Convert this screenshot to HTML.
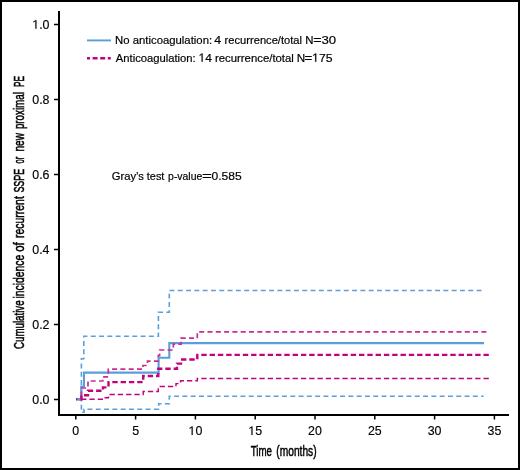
<!DOCTYPE html>
<html>
<head>
<meta charset="utf-8">
<style>
html,body{margin:0;padding:0;background:#fff;}
body{width:520px;height:470px;overflow:hidden;}
svg{display:block;will-change:transform;}
text{font-family:"Liberation Sans",sans-serif;fill:#000;}
.t{stroke:#000;stroke-width:0.2;}
.k{stroke:#000;stroke-width:0.15;}
.one{fill:none;stroke:none;}
</style>
</head>
<body>
<svg width="520" height="470" viewBox="0 0 520 470">
<rect x="1" y="1" width="518" height="468" fill="none" stroke="#000" stroke-width="2"/>
<g stroke="#000" stroke-width="2" fill="none">
<path d="M59,11 V415 H509"/>
</g>
<g stroke="#000" stroke-width="1.5" fill="none">
<path d="M54,24.5 H59 M54,99.5 H59 M54,174.5 H59 M54,249.5 H59 M54,324.5 H59 M54,399.5 H59"/>
<path d="M75.8,415 V419.5 M135.6,415 V419.5 M195.4,415 V419.5 M255.2,415 V419.5 M315,415 V419.5 M374.8,415 V419.5 M434.6,415 V419.5 M494.4,415 V419.5"/>
</g>
<g class="k" font-size="12.4" text-anchor="end">
<text x="49.5" y="28.7"><tspan class="one">1</tspan>.0</text>
<text x="49.5" y="103.7">0.8</text>
<text x="49.5" y="178.7">0.6</text>
<text x="49.5" y="253.7">0.4</text>
<text x="49.5" y="328.7">0.2</text>
<text x="49.5" y="403.7">0.0</text>
</g>
<g class="k" font-size="12.4" text-anchor="middle">
<text x="75.8" y="435">0</text>
<text x="135.6" y="435">5</text>
<text x="195.4" y="435"><tspan class="one">1</tspan>0</text>
<text x="255.2" y="435"><tspan class="one">1</tspan>5</text>
<text x="315.0" y="435">20</text>
<text x="374.8" y="435">25</text>
<text x="434.6" y="435">30</text>
<text x="494.4" y="435">35</text>
</g>
<g font-size="15.1" stroke="#000" stroke-width="0.5">
<text x="250.7" y="455.6" textLength="21.3" lengthAdjust="spacingAndGlyphs">Time</text>
<text x="276.3" y="455.6" textLength="40.3" lengthAdjust="spacingAndGlyphs">(months)</text>
</g>
<g font-size="15.3" stroke="#000" stroke-width="0.55">
<text transform="translate(23.6,348.9) rotate(-90)" textLength="48.5" lengthAdjust="spacingAndGlyphs">Cumulative</text>
<text transform="translate(23.6,298.5) rotate(-90)" textLength="43.8" lengthAdjust="spacingAndGlyphs">incidence</text>
<text transform="translate(23.6,251.8) rotate(-90)" textLength="9.6" lengthAdjust="spacingAndGlyphs">of</text>
<text transform="translate(23.6,237.9) rotate(-90)" textLength="41.7" lengthAdjust="spacingAndGlyphs">recurrent</text>
<text transform="translate(23.6,192.6) rotate(-90)" textLength="23.9" lengthAdjust="spacingAndGlyphs">SSPE</text>
<text transform="translate(23.6,163.4) rotate(-90)" textLength="6.7" lengthAdjust="spacingAndGlyphs">or</text>
<text transform="translate(23.6,151.6) rotate(-90)" textLength="18.6" lengthAdjust="spacingAndGlyphs">new</text>
<text transform="translate(23.6,129.1) rotate(-90)" textLength="36.9" lengthAdjust="spacingAndGlyphs">proximal</text>
<text transform="translate(23.6,87.0) rotate(-90)" textLength="11.1" lengthAdjust="spacingAndGlyphs">PE</text>
</g>
<path d="M87,40.4 H111" stroke="#5a9fdc" stroke-width="1.9" fill="none"/>
<path d="M87,58.2 H111" stroke="#c0047c" stroke-width="2.4" fill="none" stroke-dasharray="3 2.6 5 2.6 5 2.6 3"/>
<text class="t" x="115.123" y="43.7" font-size="11.8" textLength="96.972" lengthAdjust="spacingAndGlyphs">No anticoagulation:</text>
<text class="t" x="214.378" y="43.7" font-size="11.8" textLength="6.859" lengthAdjust="spacingAndGlyphs">4</text>
<text class="t" x="224.62" y="43.7" font-size="11.8" textLength="77.421" lengthAdjust="spacingAndGlyphs">recurrence/total</text>
<text class="t" x="305.362" y="43.7" font-size="11.8" textLength="8.228" lengthAdjust="spacingAndGlyphs">N</text>
<text class="t" x="313.377" y="43.7" font-size="11.8" textLength="8.356" lengthAdjust="spacingAndGlyphs">=</text>
<text class="t" x="321.409" y="43.7" font-size="11.8" textLength="14.666" lengthAdjust="spacingAndGlyphs">30</text>
<text class="t" x="115.812" y="61.7" font-size="11.8" textLength="79.909" lengthAdjust="spacingAndGlyphs">Anticoagulation:</text>
<text class="t" x="198.564" y="61.7" font-size="11.8" textLength="13.364" lengthAdjust="spacingAndGlyphs"><tspan class="one">1</tspan>4</text>
<text class="t" x="214.979" y="61.7" font-size="11.8" textLength="78.905" lengthAdjust="spacingAndGlyphs">recurrence/total</text>
<text class="t" x="296.725" y="61.7" font-size="11.8" textLength="8.462" lengthAdjust="spacingAndGlyphs">N</text>
<text class="t" x="304.499" y="61.7" font-size="11.8" textLength="7.716" lengthAdjust="spacingAndGlyphs">=</text>
<text class="t" x="312.108" y="61.7" font-size="11.8" textLength="20.395" lengthAdjust="spacingAndGlyphs"><tspan class="one">1</tspan>75</text>
<text class="t" x="111.76" y="180.0" font-size="11.8" textLength="32.218" lengthAdjust="spacingAndGlyphs">Gray’s</text>
<text class="t" x="146.793" y="180.0" font-size="11.8" textLength="17.624" lengthAdjust="spacingAndGlyphs">test</text>
<text class="t" x="168.091" y="180.0" font-size="11.8" textLength="34.219" lengthAdjust="spacingAndGlyphs">p-value</text>
<text class="t" x="202.062" y="180.0" font-size="11.8" textLength="9.896" lengthAdjust="spacingAndGlyphs">=</text>
<text class="t" x="211.54" y="180.0" font-size="11.8" textLength="30.25" lengthAdjust="spacingAndGlyphs">0.585</text>
<g fill="none">
<path stroke="#5a9fdc" stroke-width="1.6" stroke-dasharray="4.9 3.40" stroke-dashoffset="5.50" d="M76.3,399.3 H81.4 V358.7 H83.8 V336.3 H158.4 V312.3 H169.3 V290.5 H481.5"/>
<path stroke="#5a9fdc" stroke-width="1.6" stroke-dasharray="4.9 3.40" stroke-dashoffset="6.00" d="M76.3,399.3 H81.4 V412.3 H84 V409.3 H158.7 V403.7 H169.3 V396.3 H483.6"/>
<path stroke="#5a9fdc" stroke-width="2.1" d="M76.3,399.3 H81.3 V386.5 H84 V372.6 H158.6 V357.8 H169.3 V343.1 H484"/>
<path stroke="#cc2c92" stroke-width="1.7" stroke-dasharray="5.0 3.30" stroke-dashoffset="0.20" d="M76,399.3 H81.4 V388 H88 V381 H102.8 V376.8 H108.3 V369.2 H143 V365.5 H147.5 V361.2 H158.3 V355.5 H159.6 V350 H173.3 V344.2 H181 V338.2 H197.3 V331.8 H486.5"/>
<path stroke="#c0047c" stroke-width="1.45" stroke-dasharray="5.3 3.00" stroke-dashoffset="3.20" d="M76,399.3 H103.3 V397.8 H108.5 V394.5 H143.2 V391.4 H158.3 V386.5 H176 V383.6 H180.6 V380.7 H197.3 V378.4 H488.8"/>
<path stroke="#c0047c" stroke-width="2.4" stroke-dasharray="5.4 2.90" stroke-dashoffset="4.60" d="M76,399.3 H81.4 V395.3 H88 V390.8 H103 V387.4 H108.5 V382.1 H143.2 V376 H158.3 V368.7 H177 V363.6 H181 V359.5 H197.3 V354.9 H488.8"/>
<path stroke="#5a9fdc" stroke-width="2.1" d="M77.2,399.3 H80.4"/>
</g>
<path d="M35.37,28.70 L35.37,21.21 L33.44,22.58 L33.44,21.56 L35.46,20.17 L36.47,20.17 L36.47,28.70 Z" fill="#000" stroke="#000" stroke-width="0.15"/>
<path d="M191.62,435.00 L191.62,427.51 L189.69,428.88 L189.69,427.86 L191.71,426.47 L192.71,426.47 L192.71,435.00 Z" fill="#000" stroke="#000" stroke-width="0.15"/>
<path d="M251.42,435.00 L251.42,427.51 L249.49,428.88 L249.49,427.86 L251.51,426.47 L252.51,426.47 L252.51,435.00 Z" fill="#000" stroke="#000" stroke-width="0.15"/>
<path d="M201.59,61.70 L201.59,54.57 L199.72,55.88 L199.72,54.90 L201.67,53.58 L202.65,53.58 L202.65,61.70 Z" fill="#000" stroke="#000" stroke-width="0.2"/>
<path d="M315.18,61.70 L315.18,54.57 L313.28,55.88 L313.28,54.90 L315.27,53.58 L316.26,53.58 L316.26,61.70 Z" fill="#000" stroke="#000" stroke-width="0.2"/>
</svg>
</body>
</html>
